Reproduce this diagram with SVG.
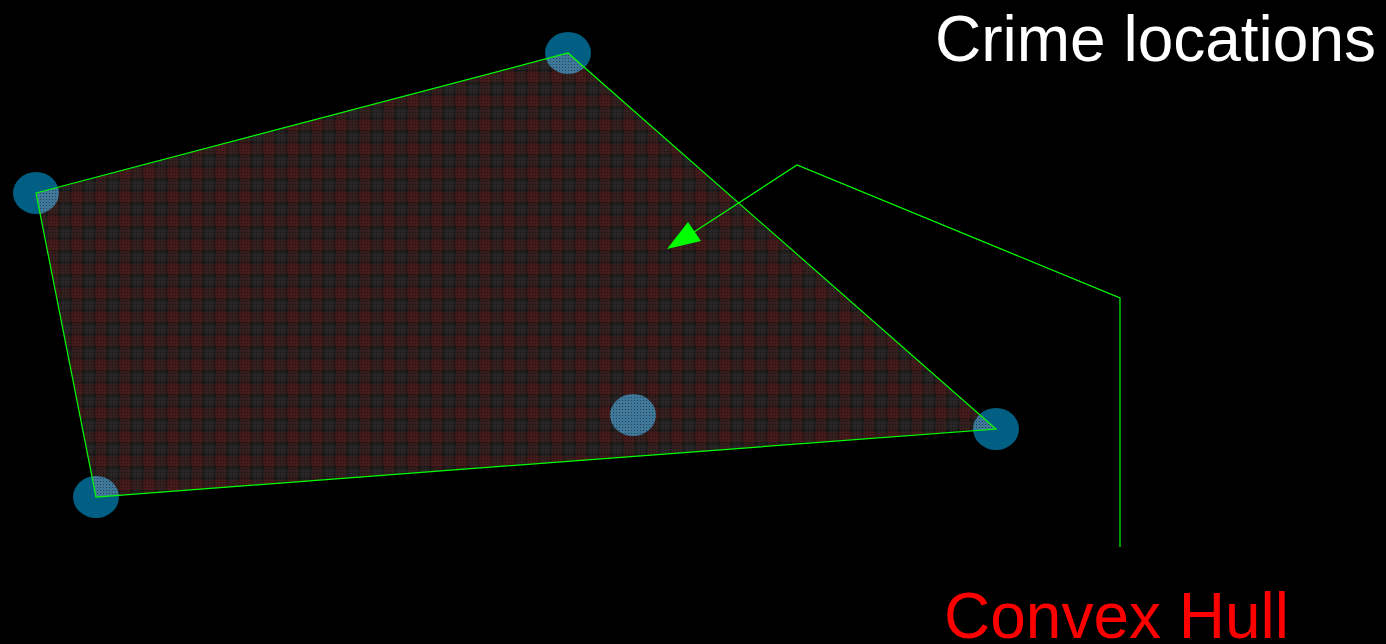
<svg xmlns="http://www.w3.org/2000/svg" width="1386" height="644" viewBox="0 0 1386 644">
  <defs>
    <style>
      .pt { fill: #005f82; }
      .ptin { fill: #40789a; }
      .edge { fill: none; stroke: #00ff00; stroke-width: 1.2; }
      .lbl { font-family: "Liberation Sans", Arial, sans-serif; font-size: 64px; }
    </style>
    <pattern id="plaid" patternUnits="userSpaceOnUse" width="24" height="24">
      <rect width="24" height="24" fill="#1c1818"/>
      <rect x="0" y="0" width="10" height="24" fill="#6a1c1c" opacity="0.35"/>
      <rect x="0" y="0" width="24" height="10" fill="#6a1c1c" opacity="0.35"/>
      <rect x="13" y="0" width="8" height="24" fill="#3a3a3a" opacity="0.25"/>
      <rect x="0" y="13" width="24" height="8" fill="#3a3a3a" opacity="0.25"/>
    </pattern>
    <pattern id="dots" patternUnits="userSpaceOnUse" width="3" height="3">
      <rect x="1" y="1" width="1" height="1" fill="#000"/>
    </pattern>
    <clipPath id="hullClip">
      <polygon points="36,193 568,53 996,429 96,497"/>
    </clipPath>
  </defs>
  <rect width="1386" height="644" fill="#000"/>

  <g id="crime-points">
    <ellipse class="pt" cx="36" cy="193" rx="23" ry="21"/>
    <ellipse class="pt" cx="568" cy="53" rx="23" ry="21"/>
    <ellipse class="pt" cx="996" cy="429" rx="23" ry="21"/>
    <ellipse class="pt" cx="96" cy="497" rx="23" ry="21"/>
  </g>

  <g id="hull">
    <polygon points="36,193 568,53 996,429 96,497" fill="url(#plaid)" opacity="0.95"/>
    <g clip-path="url(#hullClip)">
      <ellipse class="ptin" cx="36" cy="193" rx="23" ry="21"/>
      <ellipse class="ptin" cx="568" cy="53" rx="23" ry="21"/>
      <ellipse class="ptin" cx="996" cy="429" rx="23" ry="21"/>
      <ellipse class="ptin" cx="96" cy="497" rx="23" ry="21"/>
      <ellipse class="ptin" cx="633" cy="415" rx="23" ry="21"/>
    </g>
    <polygon points="36,193 568,53 996,429 96,497" fill="url(#dots)" opacity="0.45"/>
    <polygon class="edge" points="36,193 568,53 996,429 96,497"/>
  </g>

  <g id="connectors">
    <polyline class="edge" points="1120,547 1120,298 797,165 694,232"/>
    <polygon points="667,249 688,222 701,241" fill="#00ff00"/>
  </g>

  <g id="label-crime-locations">
    <text class="lbl" x="1376" y="61" text-anchor="end" fill="#ffffff">Crime locations</text>
  </g>
  <g id="label-convex-hull">
    <text class="lbl" x="944" y="638" fill="#ff0000">Convex Hull</text>
  </g>
</svg>
